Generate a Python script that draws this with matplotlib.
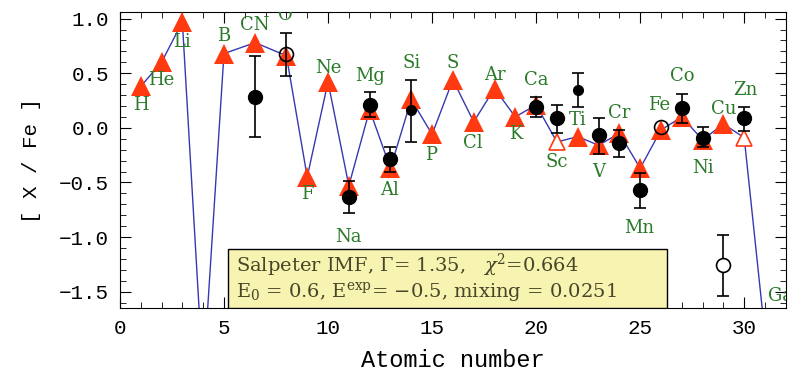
import numpy as np
import matplotlib
matplotlib.use('Agg')
import matplotlib.pyplot as plt
import matplotlib.ticker as ticker
from matplotlib.patches import Rectangle

plt.rcParams.update({'font.family': 'Liberation Mono', 'font.size': 15,
                     'mathtext.fontset': 'dejavuserif'})

# model abundances (triangles + line)
model_z = [1, 2, 3, 4, 5, 6.5, 8, 9, 10, 11, 12, 13, 14, 15, 16, 17, 18, 19,
           20, 21, 22, 23, 24, 25, 26, 27, 28, 29, 30, 31]
model_val = [0.38, 0.60, 0.97, -2.3, 0.68, 0.78, 0.66, -0.45, 0.42, -0.53,
             0.165, -0.37, 0.26, -0.06, 0.44, 0.055, 0.36, 0.10, 0.21, -0.13,
             -0.08, -0.16, -0.05, -0.37, -0.02, 0.10, -0.11, 0.035, -0.09, -1.9]
# open (upper-limit) model triangles
open_model_z = [21, 30]

# element labels
label_txt = ['H', 'He', 'Li', 'B', 'CN', 'O', 'F', 'Ne', 'Na', 'Mg', 'Al', 'Si',
             'P', 'S', 'Cl', 'Ar', 'K', 'Ca', 'Sc', 'Ti', 'V', 'Cr', 'Mn', 'Fe',
             'Co', 'Ni', 'Cu', 'Zn', 'Ga']
label_x = [1.0, 2.0, 3.0, 5.0, 6.5, 7.97, 9.0, 10.0, 11.0, 12.0, 12.96, 14.0,
           14.97, 16.0, 16.96, 18.0, 19.0, 20.0, 21.0, 22.0, 23.0, 24.0, 24.96,
           25.9, 27.0, 28.0, 29.0, 30.05, 31.75]
label_y = [0.21, 0.44, 0.79, 0.84, 0.94, 1.03, -0.61, 0.55, -1.0, 0.47, -0.57,
           0.59, -0.25, 0.59, -0.14, 0.48, -0.06, 0.44, -0.31, 0.073, -0.40,
           0.14, -0.92, 0.21, 0.47, -0.37, 0.17, 0.35, -1.54]

# observed abundances (filled dots)
obs_z = [6.5, 11, 12, 13, 20, 21, 23, 24, 25, 27, 28, 30]
obs_val = [0.28, -0.63, 0.21, -0.29, 0.19, 0.09, -0.07, -0.14, -0.57, 0.18, -0.09, 0.09]
obs_hi = [0.66, -0.49, 0.33, -0.18, 0.28, 0.21, 0.09, -0.02, -0.41, 0.31, 0.01, 0.19]
obs_lo = [-0.08, -0.78, 0.10, -0.40, 0.10, -0.05, -0.24, -0.27, -0.73, 0.04, -0.18, -0.03]
# small dots
small_z = [14, 22]
small_val = [0.165, 0.35]
small_hi = [0.44, 0.50]
small_lo = [-0.13, 0.19]
# open circles
open_z = [8, 26, 29]
open_val = [0.68, 0.01, -1.26]
open_hi = [0.87, np.nan, -0.98]
open_lo = [0.47, np.nan, -1.54]

fig = plt.figure(figsize=(7.89, 3.77), dpi=100)
ax = fig.add_axes([0.152, 0.183, 0.844, 0.785])

red = '#ff3a10'
green = '#2a7a2a'
serif = 'DejaVu Serif'

ax.plot(model_z, model_val, color='#3838b0', lw=1.0, zorder=2)
mz = np.array(model_z)
mv = np.array(model_val)
is_open = np.isin(mz, open_model_z)
ax.plot(mz[~is_open], mv[~is_open], '^', color=red, ms=14, mew=0, zorder=3)
ax.plot(mz[is_open], mv[is_open], '^', mfc='white', mec=red, ms=12, mew=1.2, zorder=3)

for z, v, hi, lo in zip(obs_z, obs_val, obs_hi, obs_lo):
    ax.errorbar(z, v, yerr=[[v - lo], [hi - v]], fmt='o', color='black',
                ms=10, capsize=4, elinewidth=1.2, capthick=1.2, zorder=4)
for z, v, hi, lo in zip(small_z, small_val, small_hi, small_lo):
    ax.errorbar(z, v, yerr=[[v - lo], [hi - v]], fmt='o', color='black',
                ms=7, capsize=4, elinewidth=1.2, capthick=1.2, zorder=4)
for z, v, hi, lo in zip(open_z, open_val, open_hi, open_lo):
    if np.isfinite(hi):
        ax.errorbar(z, v, yerr=[[v - lo], [hi - v]], fmt='none', ecolor='black',
                    capsize=4, elinewidth=1.2, capthick=1.2, zorder=4)
    ax.plot(z, v, 'o', mfc='white' if z == 29 else 'none', mec='black',
            ms=10, mew=1.2, zorder=5)

for t, x, y in zip(label_txt, label_x, label_y):
    ax.text(x, y, t, color=green, fontsize=13, family=serif, ha='center',
            va='center', zorder=6, clip_on=True)

ax.add_patch(Rectangle((5.18, -1.65), 26.3 - 5.18, 0.54, facecolor='#f7f3b0',
                       edgecolor='black', lw=1.0, zorder=7))
ax.text(5.6, -1.26, r'Salpeter IMF, $\Gamma$= 1.35,   $\chi^2$=0.664',
        color='#4a4428', fontsize=14, family=serif, va='center', zorder=8)
ax.text(5.6, -1.5, r'E$_0$ = 0.6, E$^{\rm exp}$= $-$0.5, mixing = 0.0251',
        color='#4a4428', fontsize=14, family=serif, va='center', zorder=8)

ax.set_xlim(0, 32)
ax.set_ylim(-1.65, 1.06)
ax.xaxis.set_major_locator(ticker.MultipleLocator(5))
ax.xaxis.set_minor_locator(ticker.MultipleLocator(1))
ax.yaxis.set_major_locator(ticker.MultipleLocator(0.5))
ax.yaxis.set_minor_locator(ticker.MultipleLocator(0.1))
ax.yaxis.set_major_formatter(ticker.FuncFormatter(
    lambda v, p: f'{v:.1f}'.replace('-', '\u2212')))
ax.tick_params(which='both', direction='in', top=True, right=True, labelsize=15)
ax.tick_params(which='major', length=8, pad=8)
ax.tick_params(which='minor', length=4)
ax.set_xlabel('Atomic number', fontsize=17, labelpad=8)
ax.set_ylabel('[ X / Fe ]', fontsize=15, labelpad=13)

fig.savefig('out.png', dpi=100)
